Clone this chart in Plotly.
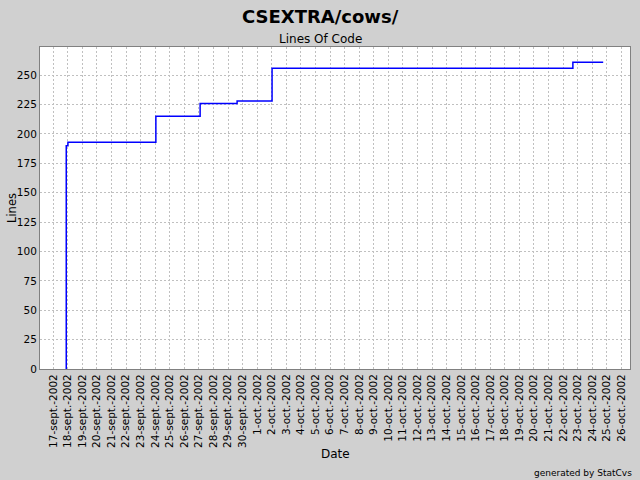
import plotly.graph_objects as go
from datetime import datetime, timedelta

# Data: LOC step points (timestamp, lines)
loc_times = [
    "2002-09-17 21:24", "2002-09-17 21:25", "2002-09-18 00:11",
    "2002-09-24 01:03", "2002-09-27 01:58", "2002-09-29 14:53",
    "2002-10-02 00:30", "2002-10-22 16:04", "2002-10-24 18:00",
]
loc_values = [0, 190, 193, 215, 226, 228, 256, 261, 261]

# Tick labels (French month abbreviations, one per day)
start = datetime(2002, 9, 17)
tick_dates = [start + timedelta(days=i) for i in range(40)]
month_names = {9: "sept.", 10: "oct."}
tick_text = [f"{d.day}-{month_names[d.month]}-{d.year}" for d in tick_dates]
tick_vals = [d.strftime("%Y-%m-%d") for d in tick_dates]
y_ticks = list(range(0, 251, 25))

x_min = "2002-09-16 02:10"
x_max = "2002-10-26 14:10"

FONT = "DejaVu Sans"
W, H = 640, 480
L, R, T, B = 40, 10, 47, 111
PW, PH = W - L - R, H - T - B


def px_ann(text, px, py, size, angle=0, xanchor="center"):
    return dict(
        text=text, x=(px - L) / PW, y=(H - B - py) / PH,
        xref="paper", yref="paper", xanchor=xanchor, yanchor="middle",
        showarrow=False, textangle=angle, font=dict(size=size, family=FONT, color="#000000"),
    )


fig = go.Figure()
fig.add_trace(go.Scatter(
    x=loc_times, y=loc_values, mode="lines",
    line=dict(color="#0000ff", width=1.5, shape="hv"),
    showlegend=False, hoverinfo="skip",
))

fig.update_layout(
    width=W, height=H,
    paper_bgcolor="#d0d0d0", plot_bgcolor="#ffffff",
    margin=dict(l=L, r=R, t=T, b=B),
    font=dict(family=FONT, color="#000000"),
    xaxis=dict(
        type="date", range=[x_min, x_max],
        tickmode="array", tickvals=tick_vals, ticktext=tick_text,
        tickangle=-90, tickfont=dict(size=10.5, family=FONT),
        showgrid=True, gridcolor="#c0c0c0", griddash="2px,2px", gridwidth=1,
        showline=True, linecolor="#808080", linewidth=1, mirror=True,
        ticks="", zeroline=False,
    ),
    yaxis=dict(
        range=[0, 274], tickmode="array", tickvals=y_ticks,
        tickfont=dict(size=10.5, family=FONT),
        showgrid=True, gridcolor="#c0c0c0", griddash="2px,2px", gridwidth=1,
        showline=True, linecolor="#808080", linewidth=1, mirror=True,
        ticks="", zeroline=False,
    ),
    annotations=[
        px_ann("<b>CSEXTRA/cows/</b>", 320, 17, 18),
        px_ann("Lines Of Code", 320, 39, 12),
        px_ann("Lines", 12, 208, 11.5, angle=-90),
        px_ann("Date", 335, 454, 12),
        px_ann("generated by StatCvs", 634, 473, 9, xanchor="right"),
    ],
)

fig.write_html(
    "out.html",
    config={"displayModeBar": False},
    post_script="document.body.style.margin='0';document.body.style.overflow='hidden';",
)
